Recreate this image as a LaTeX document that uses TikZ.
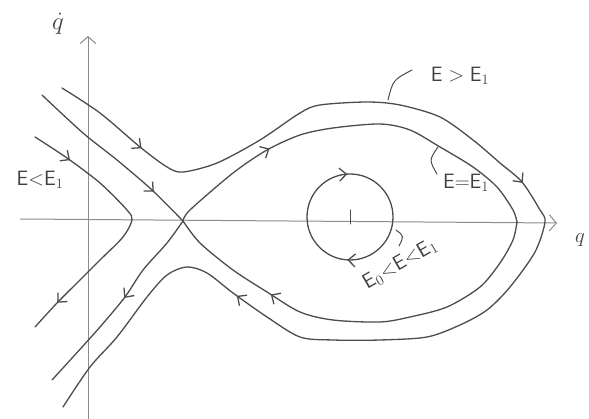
\documentclass[tikz,border=0pt]{standalone}
\usetikzlibrary{arrows.meta,decorations.markings}
\tikzset{
  >={Straight Barb[length=7pt,width=13pt]},
  pencil/.style={draw=black!70, line width=1.3pt, line cap=round, line join=round},
  axis/.style={draw=black!45, line width=1pt, -{Straight Barb[length=7pt,width=16pt]}},
  leader/.style={draw=black!70, line width=1pt, line cap=round},
  lbl/.style={font=\fontsize{22}{24}\selectfont, text=black!75},
  marks/.style={postaction={decorate,decoration={markings,#1}}},
  /pgf/decoration/arr/.style={mark=at position #1 with {\arrow{>}}},
}
\newcommand{\En}{\mathsf{E}}
\begin{document}
\begin{tikzpicture}[x=1pt,y=-1pt]
\useasboundingbox (0,0) rectangle (589,419);
\coordinate (O) at (20,219);
\coordinate (Qend) at (557,223);
\coordinate (Vbot) at (88,419);
\coordinate (Vtop) at (88,36);
\coordinate (S) at (183,221);
\coordinate (C) at (350,217);
\coordinate (R) at (517,222);
\draw[axis] (O) -- (Qend);
\draw[axis] (Vbot) -- (Vtop);
\draw[pencil,marks={arr=42pt,arr=242pt}] plot[smooth] coordinates {(35,137) (67,158) (100,183) (127,210) (132,220) (123,237) (100,260) (80,280) (57,303) (35,327)};
\draw[pencil,marks={arr=148pt}] plot[smooth] coordinates {(42,95) (83,133) (117,160) (152,190) (S)};
\draw[pencil,marks={arr=97pt}] plot[smooth] coordinates {(S) (167,243) (143,270) (125,297) (100,327) (73,357) (52,380)};
\draw[pencil,marks={arr=114pt}] plot[smooth] coordinates {(S) (190,210) (233,173) (267,150) (300,135) (333,128) (380,124) (410,130) (440,147) (473,167) (497,187) (513,210) (R)};
\draw[pencil,marks={arr=299pt}] plot[smooth] coordinates {(R) (513,240) (500,263) (480,287) (447,307) (410,317) (380,322) (333,320) (300,312) (267,292) (233,270) (200,243) (S)};
\draw[pencil,marks={arr=100pt,arr=531pt,arr=953pt}] plot[smooth] coordinates {(62,88) (100,113) (140,147) (167,167) (183,172) (217,163) (260,140) (300,113) (320,105) (367,102) (400,105) (440,117) (473,140) (500,163) (522,182) (540,210) (545,222) (535,252) (510,287) (487,310) (460,325) (427,337) (380,340) (333,340) (300,337) (267,317) (233,293) (207,273) (187,267) (167,275) (147,297) (117,337) (90,367) (63,407)};
\draw[pencil,marks={arr=0.26,arr=0.74}] (393,217) arc[start angle=0,end angle=-360,radius=43pt];
\draw[leader] (C) ++(0,-7) -- ++(0,14);
\node[lbl,font=\fontsize{25}{27}\selectfont] (qdot) at (58,24) {$\dot q$};
\node[lbl] (q) at (580,240) {$q$};
\node[lbl] (Elow) at (40,180) {$\En{<}\En_1$};
\node[lbl] (Ehigh) at (460,76) {$\En>\En_1$};
\node[lbl] (Esep) at (466,183) {$\En{=}\En_1$};
\node[lbl,rotate=30] (Ein) at (400,264) {$\En_0{<}\En{<}\En_1$};
\coordinate (h1) at (388,100);
\coordinate (h2) at (412,70);
\draw[leader] (h1) .. controls (393,80) .. (h2);
\coordinate (s1) at (438,147);
\coordinate (s2) at (437,174);
\draw[leader] (s1) .. controls (429,160) .. (s2);
\coordinate (i1) at (396,230);
\coordinate (i2) at (399,246);
\draw[leader] (i1) .. controls (404,236) .. (i2);
\end{tikzpicture}
\end{document}
